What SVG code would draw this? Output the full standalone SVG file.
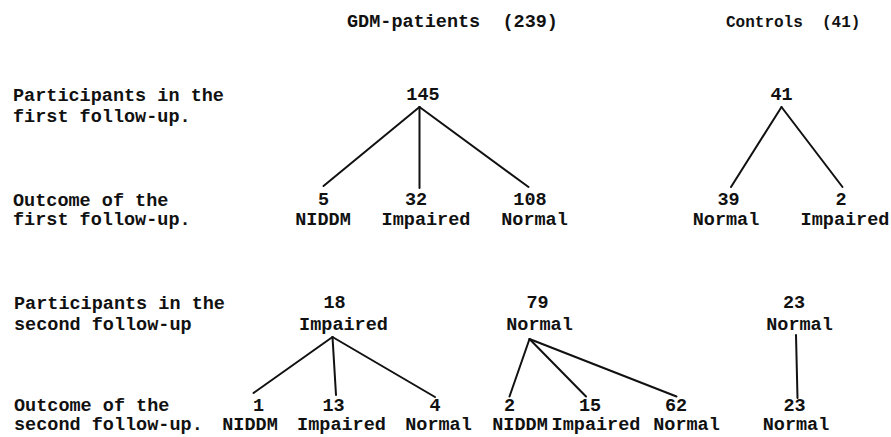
<svg xmlns="http://www.w3.org/2000/svg" width="891" height="437" viewBox="0 0 891 437">
<style>
text{font-family:"Liberation Mono","Courier New",monospace;font-weight:bold;font-size:18.5px;fill:#111}
.m{text-anchor:middle}
.s{font-size:16px}
.c line{stroke:#111;stroke-width:2;stroke-linecap:round}
</style>
<rect width="891" height="437" fill="#fff"/>
<g id="titles">
<text x="347" y="27" xml:space="preserve">GDM-patients  (239)</text>
<text class="s" x="726" y="27" xml:space="preserve">Controls  (41)</text>
</g>
<g id="row-labels">
<text x="13" y="101">Participants in the</text>
<text x="13" y="122">first follow-up.</text>
<text x="13" y="206">Outcome of the</text>
<text x="13" y="225">first follow-up.</text>
<text x="14" y="309">Participants in the</text>
<text x="14" y="330">second follow-up</text>
<text x="14" y="411">Outcome of the</text>
<text x="14" y="430">second follow-up.</text>
</g>
<g class="c" id="connectors">
<line x1="419.5" y1="107" x2="323.5" y2="186"/>
<line x1="419.5" y1="107" x2="419.5" y2="188"/>
<line x1="419.5" y1="107" x2="528.5" y2="187"/>
<line x1="781.5" y1="107" x2="731" y2="187"/>
<line x1="781.5" y1="107" x2="842.5" y2="187"/>
<line x1="332.5" y1="337" x2="253.5" y2="393"/>
<line x1="332.5" y1="337" x2="336" y2="395"/>
<line x1="332.5" y1="337" x2="435" y2="397"/>
<line x1="529.5" y1="339" x2="509.5" y2="396.5"/>
<line x1="529.5" y1="339" x2="586" y2="396.5"/>
<line x1="529.5" y1="339" x2="676.5" y2="396.5"/>
<line x1="796" y1="335" x2="797.5" y2="398"/>
</g>
<g id="n-gdm-145"><text class="m" x="423" y="100">145</text></g>
<g id="n-ctrl-41"><text class="m" x="781.5" y="100">41</text></g>
<g id="n-f1-niddm"><text class="m" x="323.5" y="205">5</text><text class="m" x="323" y="225">NIDDM</text></g>
<g id="n-f1-impaired"><text class="m" x="416" y="205">32</text><text class="m" x="426" y="225">Impaired</text></g>
<g id="n-f1-normal"><text class="m" x="530" y="205">108</text><text class="m" x="534.5" y="225">Normal</text></g>
<g id="n-c1-normal"><text class="m" x="728.5" y="205">39</text><text class="m" x="726" y="225">Normal</text></g>
<g id="n-c1-impaired"><text class="m" x="841" y="205">2</text><text class="m" x="845" y="225">Impaired</text></g>
<g id="n-p2-impaired"><text class="m" x="334.5" y="308">18</text><text class="m" x="343.5" y="330">Impaired</text></g>
<g id="n-p2-normal"><text class="m" x="537.5" y="308">79</text><text class="m" x="539.5" y="330">Normal</text></g>
<g id="n-p2-ctrl"><text class="m" x="794" y="308">23</text><text class="m" x="799.5" y="330">Normal</text></g>
<g id="n-o2-i-niddm"><text class="m" x="258.5" y="411">1</text><text class="m" x="250" y="430">NIDDM</text></g>
<g id="n-o2-i-impaired"><text class="m" x="333.5" y="411">13</text><text class="m" x="341.5" y="430">Impaired</text></g>
<g id="n-o2-i-normal"><text class="m" x="435" y="411">4</text><text class="m" x="438.5" y="430">Normal</text></g>
<g id="n-o2-n-niddm"><text class="m" x="509.5" y="411">2</text><text class="m" x="520" y="430">NIDDM</text></g>
<g id="n-o2-n-impaired"><text class="m" x="596" y="411" dx="-6">15</text><text class="m" x="596" y="430">Impaired</text></g>
<g id="n-o2-n-normal"><text class="m" x="676" y="411">62</text><text class="m" x="686.5" y="430">Normal</text></g>
<g id="n-o2-c-normal"><text class="m" x="794.5" y="411">23</text><text class="m" x="796" y="430">Normal</text></g>
</svg>
